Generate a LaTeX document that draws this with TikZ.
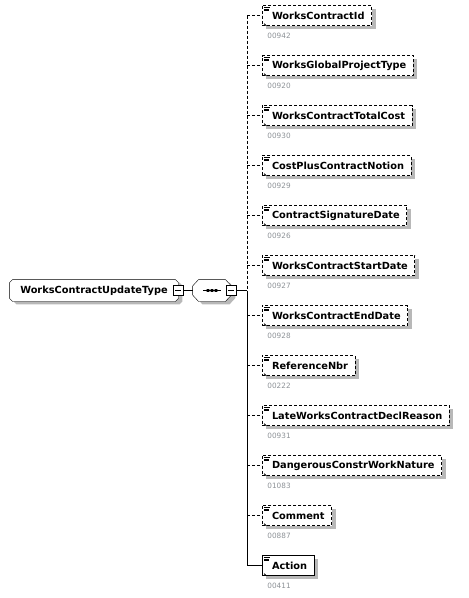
\documentclass[tikz,border=0pt]{standalone}
\usepackage{fontspec}
\setmainfont{DejaVu Sans}
\usetikzlibrary{shadows, arrows.meta, positioning, backgrounds}

\definecolor{cinzacodigo}{RGB}{140,145,150}

\begin{document}
\begin{tikzpicture}[
        x=1pt, y=-1pt, line width=0.9pt,
        sombra/.style={drop shadow={shadow xshift=4pt, shadow yshift=-3pt, fill=black!28, opacity=1}},
        tracejado/.style={dash pattern=on 3pt off 2pt},
        elemento/.style={draw, tracejado, fill=white, sombra, outer sep=0pt, minimum height=20pt, inner xsep=7pt, inner ysep=0pt, font=\fontsize{9.8}{12}\selectfont\bfseries, execute at begin node={\hspace*{3pt}},
            path picture={
                \draw[solid, line width=0.7pt] ([xshift=2pt,yshift=-1.6pt]path picture bounding box.north west) -- ++(6pt,0pt)
                    ([xshift=2pt,yshift=-3.4pt]path picture bounding box.north west) -- ++(5pt,0pt)
                    ([xshift=2pt,yshift=-5.2pt]path picture bounding box.north west) -- ++(5pt,0pt);
                \draw[solid, line width=1pt, -{Triangle[length=2.6pt,width=3pt]}] ([xshift=2.2pt,yshift=1.8pt]path picture bounding box.south west) -- ++(4.6pt,-4.6pt);
            }},
        obrigatorio/.style={elemento, solid},
        codigo/.style={inner sep=0pt, text=cinzacodigo, font=\fontsize{7.3}{8}\selectfont},
        tipo/.style={minimum width=168pt, minimum height=21pt, inner sep=0pt, font=\fontsize{9.8}{12}\selectfont\bfseries},
        sequencia/.style={minimum width=38pt, minimum height=21pt, inner sep=0pt},
        menos/.style={draw, fill=white, minimum size=10pt, inner sep=0pt, line width=0.8pt, path picture={\draw ([xshift=2pt]path picture bounding box.west) -- ([xshift=-2pt]path picture bounding box.east);}}
    ]
    \useasboundingbox (0,0) rectangle (469,598);

    % tipo principal e compositor
    \node[tipo] (tipo) at (94,290.5) {WorksContractUpdateType};
    \node[sequencia] (seq) at (212,290.5) {};
    \begin{scope}[on background layer]
        \filldraw[fill=white, sombra] ([xshift=3pt]tipo.north west) -- ([xshift=-3pt]tipo.north east) -- ([yshift=-3pt]tipo.north east)
            -- ([yshift=3pt]tipo.south east) -- ([xshift=-3pt]tipo.south east) -- ([xshift=3pt]tipo.south west)
            -- ([yshift=3pt]tipo.south west) -- ([yshift=-3pt]tipo.north west) -- cycle;
        \filldraw[fill=white, sombra] ([xshift=6pt]seq.north west) -- ([xshift=-6pt]seq.north east) -- ([yshift=-6.5pt]seq.north east)
            -- ([yshift=6.5pt]seq.south east) -- ([xshift=-6pt]seq.south east) -- ([xshift=6pt]seq.south west)
            -- ([yshift=6.5pt]seq.south west) -- ([yshift=-6.5pt]seq.north west) -- cycle;
    \end{scope}
    \node[menos] (m1) at (tipo.east) {};
    \node[menos] (m2) at (seq.east) {};
    \draw[line width=0.8pt] ([xshift=-9pt]seq.center) -- ([xshift=9pt]seq.center);
    \fill ([xshift=-4pt]seq.center) +(-1.3pt,-1.3pt) rectangle +(1.3pt,1.3pt)
          (seq.center) +(-1.3pt,-1.3pt) rectangle +(1.3pt,1.3pt)
          ([xshift=4pt]seq.center) +(-1.3pt,-1.3pt) rectangle +(1.3pt,1.3pt);
    \coordinate (bus) at (247,290.5);

    % elementos filhos
    \node[elemento, anchor=west] (e1) at (262,15.5) {WorksContractId};
    \node[elemento, below=30pt of e1.south west, anchor=north west] (e2) {WorksGlobalProjectType};
    \node[elemento, below=30pt of e2.south west, anchor=north west] (e3) {WorksContractTotalCost};
    \node[elemento, below=30pt of e3.south west, anchor=north west] (e4) {CostPlusContractNotion};
    \node[elemento, below=30pt of e4.south west, anchor=north west] (e5) {ContractSignatureDate};
    \node[elemento, below=30pt of e5.south west, anchor=north west] (e6) {WorksContractStartDate};
    \node[elemento, below=30pt of e6.south west, anchor=north west] (e7) {WorksContractEndDate};
    \node[elemento, below=30pt of e7.south west, anchor=north west] (e8) {ReferenceNbr};
    \node[elemento, below=30pt of e8.south west, anchor=north west] (e9) {LateWorksContractDeclReason};
    \node[elemento, below=30pt of e9.south west, anchor=north west] (e10) {DangerousConstrWorkNature};
    \node[elemento, below=30pt of e10.south west, anchor=north west] (e11) {Comment};
    \node[obrigatorio, below=30pt of e11.south west, anchor=north west] (e12) {Action};

    % codigos
    \node[codigo, below right=7.5pt and 5pt of e1.south west] (c1) {00942};
    \node[codigo, below right=7.5pt and 5pt of e2.south west] (c2) {00920};
    \node[codigo, below right=7.5pt and 5pt of e3.south west] (c3) {00930};
    \node[codigo, below right=7.5pt and 5pt of e4.south west] (c4) {00929};
    \node[codigo, below right=7.5pt and 5pt of e5.south west] (c5) {00926};
    \node[codigo, below right=7.5pt and 5pt of e6.south west] (c6) {00927};
    \node[codigo, below right=7.5pt and 5pt of e7.south west] (c7) {00928};
    \node[codigo, below right=7.5pt and 5pt of e8.south west] (c8) {00222};
    \node[codigo, below right=7.5pt and 5pt of e9.south west] (c9) {00931};
    \node[codigo, below right=7.5pt and 5pt of e10.south west] (c10) {01083};
    \node[codigo, below right=7.5pt and 5pt of e11.south west] (c11) {00887};
    \node[codigo, below right=7.5pt and 5pt of e12.south west] (c12) {00411};

    % ligacoes
    \draw (m1.east) -- (seq.west);
    \draw (m2.east) -- (bus);
    \draw[tracejado] (bus |- e1.west) -- (bus);
    \draw (bus) -- (bus |- e12.west);
    \draw[tracejado] (bus |- e1.west) -- (e1.west);
    \draw[tracejado] (bus |- e2.west) -- (e2.west);
    \draw[tracejado] (bus |- e3.west) -- (e3.west);
    \draw[tracejado] (bus |- e4.west) -- (e4.west);
    \draw[tracejado] (bus |- e5.west) -- (e5.west);
    \draw[tracejado] (bus |- e6.west) -- (e6.west);
    \draw[tracejado] (bus |- e7.west) -- (e7.west);
    \draw[tracejado] (bus |- e8.west) -- (e8.west);
    \draw[tracejado] (bus |- e9.west) -- (e9.west);
    \draw[tracejado] (bus |- e10.west) -- (e10.west);
    \draw[tracejado] (bus |- e11.west) -- (e11.west);
    \draw (bus |- e12.west) -- (e12.west);
\end{tikzpicture}
\end{document}
